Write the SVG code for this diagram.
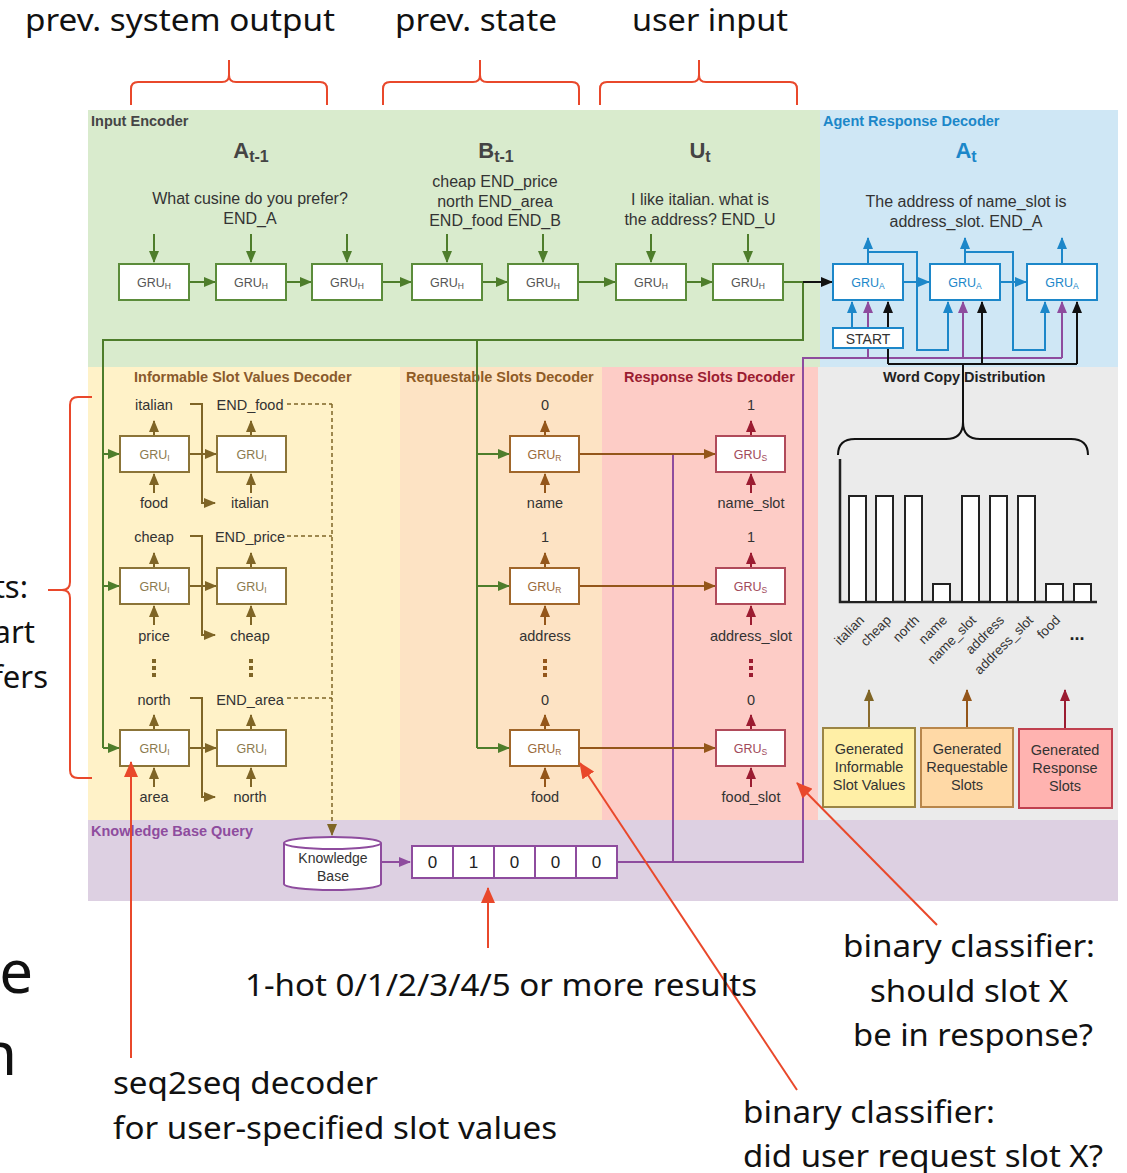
<svg xmlns="http://www.w3.org/2000/svg" width="1127" height="1173" viewBox="0 0 1127 1173">
<style>
text{font-family:"Liberation Sans",Arial,sans-serif}
.s{font-size:16px;fill:#333;text-anchor:middle}
.l{font-size:14.5px;fill:#333;text-anchor:middle}
.t{font-size:14.5px;font-weight:bold}
.g{font-size:12.5px;text-anchor:middle}
.g tspan{font-size:8.5px}
.big{font-size:22px;font-weight:bold;text-anchor:middle;fill:#444}
.big tspan{font-size:16px}
.ann{font-family:"Noto Sans","Open Sans",sans-serif;font-size:31px;fill:#111}
.huge{font-size:60px}
.box{fill:#fff;stroke-width:2}
.gh{stroke:#5b8c3a}.ght{fill:#555}
.ga{stroke:#1c87c9}.gat{fill:#1c87c9}
.gi{stroke:#8b7438}.git{fill:#8b7a4e}
.gr{stroke:#a0662a}.grt{fill:#9a6a3a}
.gs{stroke:#b04a5a}.gst{fill:#a04a5a}
.cg{stroke:#4e7d2b;stroke-width:2;fill:none}
.ck{stroke:#111;stroke-width:2;fill:none}
.cb{stroke:#1c87c9;stroke-width:2;fill:none}
.cp{stroke:#8e4c9e;stroke-width:2;fill:none}
.co{stroke:#7f6526;stroke-width:2;fill:none}
.cbr{stroke:#94561a;stroke-width:2;fill:none}
.cr{stroke:#9b1c31;stroke-width:2;fill:none}
.dash{stroke:#7f6526;stroke-width:1.5;fill:none;stroke-dasharray:4 3}
.an{stroke:#e9482b;stroke-width:2;fill:none}
.bar{fill:#fff;stroke:#222;stroke-width:2}
.cw{font-size:13.5px;fill:#333;text-anchor:end}
</style>
<defs>
<marker id="mg" viewBox="0 0 12 10" refX="11" refY="5" markerWidth="12" markerHeight="10" markerUnits="userSpaceOnUse" orient="auto"><path d="M0,0 L12,5 L0,10z" fill="#4e7d2b"/></marker>
<marker id="mk" viewBox="0 0 12 10" refX="11" refY="5" markerWidth="12" markerHeight="10" markerUnits="userSpaceOnUse" orient="auto"><path d="M0,0 L12,5 L0,10z" fill="#111"/></marker>
<marker id="mb" viewBox="0 0 12 10" refX="11" refY="5" markerWidth="12" markerHeight="10" markerUnits="userSpaceOnUse" orient="auto"><path d="M0,0 L12,5 L0,10z" fill="#1c87c9"/></marker>
<marker id="mp" viewBox="0 0 12 10" refX="11" refY="5" markerWidth="12" markerHeight="10" markerUnits="userSpaceOnUse" orient="auto"><path d="M0,0 L12,5 L0,10z" fill="#8e4c9e"/></marker>
<marker id="mo" viewBox="0 0 12 10" refX="11" refY="5" markerWidth="12" markerHeight="10" markerUnits="userSpaceOnUse" orient="auto"><path d="M0,0 L12,5 L0,10z" fill="#7f6526"/></marker>
<marker id="mbr" viewBox="0 0 12 10" refX="11" refY="5" markerWidth="12" markerHeight="10" markerUnits="userSpaceOnUse" orient="auto"><path d="M0,0 L12,5 L0,10z" fill="#94561a"/></marker>
<marker id="mr" viewBox="0 0 12 10" refX="11" refY="5" markerWidth="12" markerHeight="10" markerUnits="userSpaceOnUse" orient="auto"><path d="M0,0 L12,5 L0,10z" fill="#9b1c31"/></marker>
<marker id="man" viewBox="0 0 16 14" refX="15" refY="7" markerWidth="16" markerHeight="14" markerUnits="userSpaceOnUse" orient="auto"><path d="M0,0 L16,7 L0,14z" fill="#e9482b"/></marker>
</defs>

<rect width="1127" height="1173" fill="#fff"/>

<!-- region backgrounds -->
<g id="regions">
<rect x="88" y="110" width="732" height="257" fill="#d9ebcd"/>
<rect x="820" y="110" width="298" height="257" fill="#cfe7f5"/>
<rect x="88" y="367" width="312" height="453" fill="#fff2c8"/>
<rect x="400" y="367" width="202" height="453" fill="#fde3c4"/>
<rect x="602" y="367" width="216" height="453" fill="#fdccc6"/>
<rect x="818" y="367" width="300" height="453" fill="#ebebeb"/>
<rect x="88" y="820" width="1030" height="81" fill="#ddd0e2"/>
</g>

<!-- region titles -->
<g id="titles">
<text class="t" x="91" y="126" fill="#454545">Input Encoder</text>
<text class="t" x="823" y="126" fill="#1c87c9">Agent Response Decoder</text>
<text class="t" x="134" y="382" fill="#8a5a2c">Informable Slot Values Decoder</text>
<text class="t" x="406" y="382" fill="#8f5b26">Requestable Slots Decoder</text>
<text class="t" x="624" y="382" fill="#9b1c31">Response Slots Decoder</text>
<text class="t" x="883" y="382" fill="#222">Word Copy Distribution</text>
<text class="t" x="91" y="836" fill="#8e4c9e">Knowledge Base Query</text>
</g>

<!-- encoder inputs -->
<g id="encoder-text">
<text class="big" x="251" y="158">A<tspan dy="4">t-1</tspan></text>
<text class="big" x="496" y="158">B<tspan dy="4">t-1</tspan></text>
<text class="big" x="700" y="158">U<tspan dy="4">t</tspan></text>
<text class="s" x="250" y="204">What cusine do you prefer?</text>
<text class="s" x="250" y="224">END_A</text>
<text class="s" x="495" y="187">cheap END_price</text>
<text class="s" x="495" y="207">north END_area</text>
<text class="s" x="495" y="226">END_food END_B</text>
<text class="s" x="700" y="205">I like italian. what is</text>
<text class="s" x="700" y="225">the address? END_U</text>
</g>
<g id="decoder-text">
<text class="big" x="966" y="158" style="fill:#1c87c9">A<tspan dy="4">t</tspan></text>
<text class="s" x="966" y="207">The address of name_slot is</text>
<text class="s" x="966" y="227">address_slot. END_A</text>
</g>

<!-- connectors -->
<g id="connectors">
<!-- encoder chain -->
<path class="cg" d="M154,234V262" marker-end="url(#mg)"/>
<path class="cg" d="M251,234V262" marker-end="url(#mg)"/>
<path class="cg" d="M347,234V262" marker-end="url(#mg)"/>
<path class="cg" d="M447,234V262" marker-end="url(#mg)"/>
<path class="cg" d="M543,234V262" marker-end="url(#mg)"/>
<path class="cg" d="M651,234V262" marker-end="url(#mg)"/>
<path class="cg" d="M748,234V262" marker-end="url(#mg)"/>
<path class="cg" d="M189,282H215" marker-end="url(#mg)"/>
<path class="cg" d="M286,282H311" marker-end="url(#mg)"/>
<path class="cg" d="M382,282H411" marker-end="url(#mg)"/>
<path class="cg" d="M482,282H507" marker-end="url(#mg)"/>
<path class="cg" d="M578,282H615" marker-end="url(#mg)"/>
<path class="cg" d="M686,282H712" marker-end="url(#mg)"/>
<path class="cg" d="M782,282H803V340H103V748"/>
<path class="cg" d="M477,340V748"/>
<path class="ck" d="M803,282H832" marker-end="url(#mk)"/>
<path class="cg" d="M103,454H119" marker-end="url(#mg)"/>
<path class="cg" d="M103,586H119" marker-end="url(#mg)"/>
<path class="cg" d="M103,748H119" marker-end="url(#mg)"/>
<path class="cg" d="M477,454H509" marker-end="url(#mg)"/>
<path class="cg" d="M477,586H509" marker-end="url(#mg)"/>
<path class="cg" d="M477,748H509" marker-end="url(#mg)"/>

<!-- agent response decoder -->
<path class="cb" d="M903,282H929" marker-end="url(#mb)"/>
<path class="cb" d="M1000,282H1026" marker-end="url(#mb)"/>
<path class="cb" d="M868,264V238" marker-end="url(#mb)"/>
<path class="cb" d="M965,264V238" marker-end="url(#mb)"/>
<path class="cb" d="M1062,264V238" marker-end="url(#mb)"/>
<path class="cb" d="M868,252H917V350H948V302" marker-end="url(#mb)"/>
<path class="cb" d="M965,252H1013V350H1045V302" marker-end="url(#mb)"/>
<path class="cb" d="M852,328V302" marker-end="url(#mb)"/>
<path class="cp" d="M617,862H803V358H1062"/>
<path class="cp" d="M673,862V454"/>
<path class="cp" d="M868,358V302" marker-end="url(#mp)"/>
<path class="cp" d="M963,358V302" marker-end="url(#mp)"/>
<path class="cp" d="M1062,358V302" marker-end="url(#mp)"/>
<path class="ck" d="M888,364H1077"/>
<path class="ck" d="M888,364V302" marker-end="url(#mk)"/>
<path class="ck" d="M982,364V302" marker-end="url(#mk)"/>
<path class="ck" d="M1077,364V302" marker-end="url(#mk)"/>
<path class="ck" d="M963,364V422Q963,439 946,439H855Q838,439 838,455M963,422Q963,439 980,439H1071Q1088,439 1088,455"/>

<!-- informable slot value decoder -->
<path class="co" d="M154,436V421" marker-end="url(#mo)"/>
<path class="co" d="M251,436V421" marker-end="url(#mo)"/>
<path class="co" d="M154,493V474" marker-end="url(#mo)"/>
<path class="co" d="M251,493V474" marker-end="url(#mo)"/>
<path class="co" d="M189,454H216" marker-end="url(#mo)"/>
<path class="co" d="M190,404H202V503H215" marker-end="url(#mo)"/>
<path class="co" d="M154,568V553" marker-end="url(#mo)"/>
<path class="co" d="M251,568V553" marker-end="url(#mo)"/>
<path class="co" d="M154,625V606" marker-end="url(#mo)"/>
<path class="co" d="M251,625V606" marker-end="url(#mo)"/>
<path class="co" d="M189,586H216" marker-end="url(#mo)"/>
<path class="co" d="M190,536H202V635H215" marker-end="url(#mo)"/>
<path class="co" d="M154,730V715" marker-end="url(#mo)"/>
<path class="co" d="M251,730V715" marker-end="url(#mo)"/>
<path class="co" d="M154,787V768" marker-end="url(#mo)"/>
<path class="co" d="M251,787V768" marker-end="url(#mo)"/>
<path class="co" d="M189,748H216" marker-end="url(#mo)"/>
<path class="co" d="M190,698H202V797H215" marker-end="url(#mo)"/>
<path class="dash" d="M287,404H332M287,536H332M287,698H332"/>
<path class="dash" d="M332,404V835" marker-end="url(#mo)"/>

<!-- requestable slots decoder -->
<path class="cbr" d="M545,436V421" marker-end="url(#mbr)"/>
<path class="cbr" d="M545,493V474" marker-end="url(#mbr)"/>
<path class="cbr" d="M545,568V553" marker-end="url(#mbr)"/>
<path class="cbr" d="M545,625V606" marker-end="url(#mbr)"/>
<path class="cbr" d="M545,730V715" marker-end="url(#mbr)"/>
<path class="cbr" d="M545,787V768" marker-end="url(#mbr)"/>
<path class="cbr" d="M579,454H715" marker-end="url(#mbr)"/>
<path class="cbr" d="M579,586H715" marker-end="url(#mbr)"/>
<path class="cbr" d="M579,748H715" marker-end="url(#mbr)"/>

<!-- response slots decoder -->
<path class="cr" d="M751,436V421" marker-end="url(#mr)"/>
<path class="cr" d="M751,493V474" marker-end="url(#mr)"/>
<path class="cr" d="M751,568V553" marker-end="url(#mr)"/>
<path class="cr" d="M751,625V606" marker-end="url(#mr)"/>
<path class="cr" d="M751,730V715" marker-end="url(#mr)"/>
<path class="cr" d="M751,787V768" marker-end="url(#mr)"/>

<!-- knowledge base to result vector -->
<path class="cp" d="M381,862H410" marker-end="url(#mp)"/>

<!-- generated slot boxes feeding the copy distribution -->
<path stroke="#8b6c2c" stroke-width="2" fill="none" d="M869,728V690" marker-end="url(#mo)"/>
<path class="cbr" d="M967,728V690" marker-end="url(#mbr)"/>
<path class="cr" d="M1065,729V690" marker-end="url(#mr)"/>
</g>

<!-- encoder nodes -->
<g id="enc1"><rect class="box gh" x="119" y="264" width="70" height="36"/><text class="g ght" x="154" y="287">GRU<tspan dy="2">H</tspan></text></g>
<g id="enc2"><rect class="box gh" x="216" y="264" width="70" height="36"/><text class="g ght" x="251" y="287">GRU<tspan dy="2">H</tspan></text></g>
<g id="enc3"><rect class="box gh" x="312" y="264" width="70" height="36"/><text class="g ght" x="347" y="287">GRU<tspan dy="2">H</tspan></text></g>
<g id="enc4"><rect class="box gh" x="412" y="264" width="70" height="36"/><text class="g ght" x="447" y="287">GRU<tspan dy="2">H</tspan></text></g>
<g id="enc5"><rect class="box gh" x="508" y="264" width="70" height="36"/><text class="g ght" x="543" y="287">GRU<tspan dy="2">H</tspan></text></g>
<g id="enc6"><rect class="box gh" x="616" y="264" width="70" height="36"/><text class="g ght" x="651" y="287">GRU<tspan dy="2">H</tspan></text></g>
<g id="enc7"><rect class="box gh" x="713" y="264" width="70" height="36"/><text class="g ght" x="748" y="287">GRU<tspan dy="2">H</tspan></text></g>

<!-- agent response decoder nodes -->
<g id="dec1"><rect class="box ga" x="833" y="264" width="70" height="36"/><text class="g gat" x="868" y="287">GRU<tspan dy="2">A</tspan></text></g>
<g id="dec2"><rect class="box ga" x="930" y="264" width="70" height="36"/><text class="g gat" x="965" y="287">GRU<tspan dy="2">A</tspan></text></g>
<g id="dec3"><rect class="box ga" x="1027" y="264" width="70" height="36"/><text class="g gat" x="1062" y="287">GRU<tspan dy="2">A</tspan></text></g>
<g id="start"><rect x="833" y="328" width="70" height="20" fill="#fff" stroke="#1c87c9" stroke-width="2"/><text x="868" y="344" font-size="14" fill="#333" text-anchor="middle">START</text></g>

<!-- informable slot value decoder nodes -->
<g id="inf-food">
<rect class="box gi" x="120" y="436" width="69" height="36"/><text class="g git" x="154.5" y="459">GRU<tspan dy="2">I</tspan></text>
<rect class="box gi" x="217" y="436" width="69" height="36"/><text class="g git" x="251.5" y="459">GRU<tspan dy="2">I</tspan></text>
<text class="l" x="154" y="410">italian</text><text class="l" x="250" y="410">END_food</text>
<text class="l" x="154" y="508">food</text><text class="l" x="250" y="508">italian</text>
</g>
<g id="inf-price">
<rect class="box gi" x="120" y="568" width="69" height="36"/><text class="g git" x="154.5" y="591">GRU<tspan dy="2">I</tspan></text>
<rect class="box gi" x="217" y="568" width="69" height="36"/><text class="g git" x="251.5" y="591">GRU<tspan dy="2">I</tspan></text>
<text class="l" x="154" y="542">cheap</text><text class="l" x="250" y="542">END_price</text>
<text class="l" x="154" y="641">price</text><text class="l" x="250" y="641">cheap</text>
</g>
<g id="inf-area">
<rect class="box gi" x="120" y="730" width="69" height="36"/><text class="g git" x="154.5" y="753">GRU<tspan dy="2">I</tspan></text>
<rect class="box gi" x="217" y="730" width="69" height="36"/><text class="g git" x="251.5" y="753">GRU<tspan dy="2">I</tspan></text>
<text class="l" x="154" y="705">north</text><text class="l" x="250" y="705">END_area</text>
<text class="l" x="154" y="802">area</text><text class="l" x="250" y="802">north</text>
</g>
<g id="inf-dots" fill="#7f6526">
<rect x="152" y="659" width="4" height="4"/><rect x="152" y="666" width="4" height="4"/><rect x="152" y="673" width="4" height="4"/>
<rect x="249" y="659" width="4" height="4"/><rect x="249" y="666" width="4" height="4"/><rect x="249" y="673" width="4" height="4"/>
</g>

<!-- requestable slots decoder nodes -->
<g id="req-name"><rect class="box gr" x="510" y="436" width="69" height="36"/><text class="g grt" x="544.5" y="459">GRU<tspan dy="2">R</tspan></text><text class="l" x="545" y="410">0</text><text class="l" x="545" y="508">name</text></g>
<g id="req-address"><rect class="box gr" x="510" y="568" width="69" height="36"/><text class="g grt" x="544.5" y="591">GRU<tspan dy="2">R</tspan></text><text class="l" x="545" y="542">1</text><text class="l" x="545" y="641">address</text></g>
<g id="req-food"><rect class="box gr" x="510" y="730" width="69" height="36"/><text class="g grt" x="544.5" y="753">GRU<tspan dy="2">R</tspan></text><text class="l" x="545" y="705">0</text><text class="l" x="545" y="802">food</text></g>
<g id="req-dots" fill="#94561a"><rect x="543" y="659" width="4" height="4"/><rect x="543" y="666" width="4" height="4"/><rect x="543" y="673" width="4" height="4"/></g>

<!-- response slots decoder nodes -->
<g id="res-name"><rect class="box gs" x="716" y="436" width="69" height="36"/><text class="g gst" x="750.5" y="459">GRU<tspan dy="2">S</tspan></text><text class="l" x="751" y="410">1</text><text class="l" x="751" y="508">name_slot</text></g>
<g id="res-address"><rect class="box gs" x="716" y="568" width="69" height="36"/><text class="g gst" x="750.5" y="591">GRU<tspan dy="2">S</tspan></text><text class="l" x="751" y="542">1</text><text class="l" x="751" y="641">address_slot</text></g>
<g id="res-food"><rect class="box gs" x="716" y="730" width="69" height="36"/><text class="g gst" x="750.5" y="753">GRU<tspan dy="2">S</tspan></text><text class="l" x="751" y="705">0</text><text class="l" x="751" y="802">food_slot</text></g>
<g id="res-dots" fill="#9b1c31"><rect x="749" y="659" width="4" height="4"/><rect x="749" y="666" width="4" height="4"/><rect x="749" y="673" width="4" height="4"/></g>

<!-- word copy distribution chart -->
<g id="copy-chart">
<path d="M840,459V602H1097" stroke="#222" stroke-width="2.5" fill="none"/>
<rect class="bar" x="849" y="496" width="17" height="106"/>
<rect class="bar" x="876" y="496" width="17" height="106"/>
<rect class="bar" x="905" y="496" width="17" height="106"/>
<rect class="bar" x="933" y="584" width="17" height="18"/>
<rect class="bar" x="962" y="496" width="17" height="106"/>
<rect class="bar" x="990" y="496" width="17" height="106"/>
<rect class="bar" x="1018" y="496" width="17" height="106"/>
<rect class="bar" x="1046" y="584" width="17" height="18"/>
<rect class="bar" x="1074" y="584" width="17" height="18"/>
<text class="cw" x="865" y="621" transform="rotate(-45 865 621)">italian</text>
<text class="cw" x="892" y="621" transform="rotate(-45 892 621)">cheap</text>
<text class="cw" x="920" y="621" transform="rotate(-45 920 621)">north</text>
<text class="cw" x="948" y="621" transform="rotate(-45 948 621)">name</text>
<text class="cw" x="977" y="621" transform="rotate(-45 977 621)">name_slot</text>
<text class="cw" x="1005" y="621" transform="rotate(-45 1005 621)">address</text>
<text class="cw" x="1034" y="621" transform="rotate(-45 1034 621)">address_slot</text>
<text class="cw" x="1061" y="621" transform="rotate(-45 1061 621)">food</text>
<text x="1077" y="640" font-size="18" font-weight="bold" fill="#222" text-anchor="middle">...</text>
</g>

<!-- generated slot sources -->
<g id="gen-informable"><rect x="823" y="728" width="92" height="79" fill="#ffefa6" stroke="#9b8545" stroke-width="2"/>
<text class="l" x="869" y="754">Generated</text><text class="l" x="869" y="772">Informable</text><text class="l" x="869" y="790">Slot Values</text></g>
<g id="gen-requestable"><rect x="921" y="728" width="92" height="79" fill="#ffd9a6" stroke="#b8864b" stroke-width="2"/>
<text class="l" x="967" y="754">Generated</text><text class="l" x="967" y="772">Requestable</text><text class="l" x="967" y="790">Slots</text></g>
<g id="gen-response"><rect x="1019" y="729" width="93" height="79" fill="#ffb3b0" stroke="#c0404f" stroke-width="2"/>
<text class="l" x="1065" y="755">Generated</text><text class="l" x="1065" y="773">Response</text><text class="l" x="1065" y="791">Slots</text></g>

<!-- knowledge base and result vector -->
<g id="kb">
<path d="M284,843A48.5,6 0 0 1 381,843V884A48.5,6 0 0 1 284,884Z" fill="#fff" stroke="#8e4c9e" stroke-width="2"/>
<path d="M284,843A48.5,6 0 0 0 381,843" fill="none" stroke="#8e4c9e" stroke-width="2"/>
<text x="333" y="863" font-size="14" fill="#333" text-anchor="middle">Knowledge</text>
<text x="333" y="881" font-size="14" fill="#333" text-anchor="middle">Base</text>
</g>
<g id="kb-result" fill="#fff" stroke="#8e4c9e" stroke-width="2">
<rect x="412" y="846" width="41" height="32"/><rect x="453" y="846" width="41" height="32"/><rect x="494" y="846" width="41" height="32"/><rect x="535" y="846" width="41" height="32"/><rect x="576" y="846" width="41" height="32"/>
<g stroke="none" fill="#222" font-size="17" text-anchor="middle">
<text x="432.5" y="868">0</text><text x="473.5" y="868">1</text><text x="514.5" y="868">0</text><text x="555.5" y="868">0</text><text x="596.5" y="868">0</text>
</g>
</g>

<!-- explanatory notes -->
<g id="notes">
<path class="an" d="M131,105V89Q131,82 138,82H222Q229,82 229,75V60M229,75Q229,82 236,82H320Q327,82 327,89V105"/>
<path class="an" d="M383,105V89Q383,82 390,82H473Q480,82 480,75V60M480,75Q480,82 487,82H572Q579,82 579,89V105"/>
<path class="an" d="M600,105V89Q600,82 607,82H692Q699,82 699,75V60M699,75Q699,82 706,82H790Q797,82 797,89V105"/>
<path class="an" d="M92,397H78Q70,397 70,405V582Q70,590 62,590H48M62,590Q70,590 70,598V770Q70,778 78,778H92"/>
<path class="an" d="M488,948V888" marker-end="url(#man)"/>
<path class="an" d="M131,1058V762" marker-end="url(#man)"/>
<path class="an" d="M797,1090L580,763" marker-end="url(#man)"/>
<path class="an" d="M937,925L797,783" marker-end="url(#man)"/>
<text class="ann" x="25" y="31" textLength="310" lengthAdjust="spacingAndGlyphs">prev. system output</text>
<text class="ann" x="395" y="31" textLength="162" lengthAdjust="spacingAndGlyphs">prev. state</text>
<text class="ann" x="632" y="31" textLength="156" lengthAdjust="spacingAndGlyphs">user input</text>
<text class="ann" x="28" y="598" text-anchor="end">ts:</text>
<text class="ann" x="35" y="643" text-anchor="end">art</text>
<text class="ann" x="48" y="688" text-anchor="end">fers</text>
<text class="ann huge" x="33" y="993" text-anchor="end">e</text>
<text class="ann huge" x="17" y="1075" text-anchor="end">n</text>
<text class="ann" x="245" y="996" textLength="512" lengthAdjust="spacingAndGlyphs">1-hot 0/1/2/3/4/5 or more results</text>
<text class="ann" x="113" y="1094" textLength="265" lengthAdjust="spacingAndGlyphs">seq2seq decoder</text>
<text class="ann" x="113" y="1139" textLength="444" lengthAdjust="spacingAndGlyphs">for user-specified slot values</text>
<text class="ann" x="843" y="957" textLength="252" lengthAdjust="spacingAndGlyphs">binary classifier:</text>
<text class="ann" x="870" y="1002" textLength="198" lengthAdjust="spacingAndGlyphs">should slot X</text>
<text class="ann" x="853" y="1046" textLength="240" lengthAdjust="spacingAndGlyphs">be in response?</text>
<text class="ann" x="743" y="1123" textLength="252" lengthAdjust="spacingAndGlyphs">binary classifier:</text>
<text class="ann" x="743" y="1167" textLength="360" lengthAdjust="spacingAndGlyphs">did user request slot X?</text>
</g>
</svg>
